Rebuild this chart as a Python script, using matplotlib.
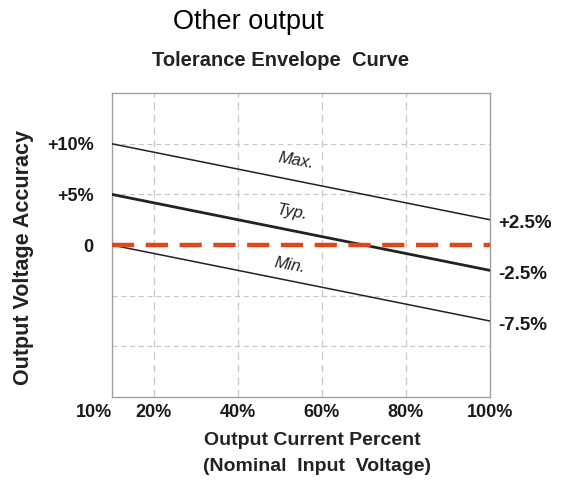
import matplotlib.pyplot as plt

plt.rcParams["font.family"] = ["Liberation Sans", "DejaVu Sans"]

# Output current percent (x) and accuracy curves (%)
load_percent = [10, 100]
max_curve = [10, 2.5]
typ_curve = [5, -2.5]
min_curve = [0, -7.5]
nominal = [0, 0]

x_ticks = [10, 20, 40, 60, 80, 100]
x_tick_labels = ["10%", "20%", "40%", "60%", "80%", "100%"]
y_ticks = [10, 5, 0]
y_tick_labels = ["+10%", "+5%", "0"]
end_labels = ["+2.5%", "-2.5%", "-7.5%"]

fig = plt.figure(figsize=(5.65, 4.8), dpi=100)
ax = fig.add_axes([0.198, 0.173, 0.669, 0.633])

# grid
for gx in [20, 40, 60, 80]:
    ax.axvline(gx, color="#c8c8c8", lw=0.9, ls=(0, (6, 4)), zorder=1)
for gy in [10, 5, -5, -10]:
    ax.axhline(gy, color="#c8c8c8", lw=0.9, ls=(0, (4, 3)), zorder=1)

ax.plot(load_percent, max_curve, color="#222222", lw=1.1, zorder=3)
ax.plot(load_percent, typ_curve, color="#222222", lw=2.0, zorder=3)
ax.plot(load_percent, min_curve, color="#222222", lw=1.1, zorder=3)
ax.plot(load_percent, nominal, color="#e0461c", lw=3.2, ls=(0, (5, 2.6)), zorder=4)

ax.set_xlim(10, 100)
ax.set_ylim(-15, 15)

ax.set_xticks(x_ticks)
ax.set_xticklabels(x_tick_labels, fontsize=13, fontweight="bold", color="#1a1a1a")
ax.get_xticklabels()[0].set_ha("right")
ax.set_yticks(y_ticks)
ax.set_yticklabels(y_tick_labels, fontsize=13, fontweight="bold", color="#1a1a1a")
ax.tick_params(axis="both", length=0)
ax.tick_params(axis="x", pad=5)
ax.tick_params(axis="y", pad=13)

for s in ax.spines.values():
    s.set_color("#a0a0a0")
    s.set_linewidth(1.0)

# curve labels
ax.text(53.8, 8.3, "Max.", fontsize=12, style="italic", rotation=-10,
        ha="center", va="center", color="#222222")
ax.text(52.9, 3.2, "Typ.", fontsize=12, style="italic", rotation=-10,
        ha="center", va="center", color="#222222")
ax.text(52.4, -2.0, "Min.", fontsize=12, style="italic", rotation=-10,
        ha="center", va="center", color="#222222")

# end values on the right
for yv, lab in zip([max_curve[1], typ_curve[1], min_curve[1]], end_labels):
    ax.annotate(lab, xy=(100, yv), xytext=(6, -3), textcoords="offset points",
                fontsize=13.5, fontweight="bold", ha="left", va="center",
                annotation_clip=False, color="#1a1a1a")

fig.text(0.439, 0.954, "Other output", fontsize=19.5, ha="center", va="center")
fig.text(0.496, 0.875, "Tolerance Envelope  Curve", fontsize=14.5,
         fontweight="bold", ha="center", va="center", color="#222222")
ax.set_ylabel("Output Voltage Accuracy", fontsize=15.5, fontweight="bold",
              color="#222222")
ax.yaxis.set_label_coords(-0.205, 0.46)
fig.text(0.552, 0.083, "Output Current Percent", fontsize=14, fontweight="bold",
         ha="center", va="center", color="#222222")
fig.text(0.561, 0.029, "(Nominal  Input  Voltage)", fontsize=14,
         fontweight="bold", ha="center", va="center", color="#222222")

fig.savefig("out.png", dpi=100)
